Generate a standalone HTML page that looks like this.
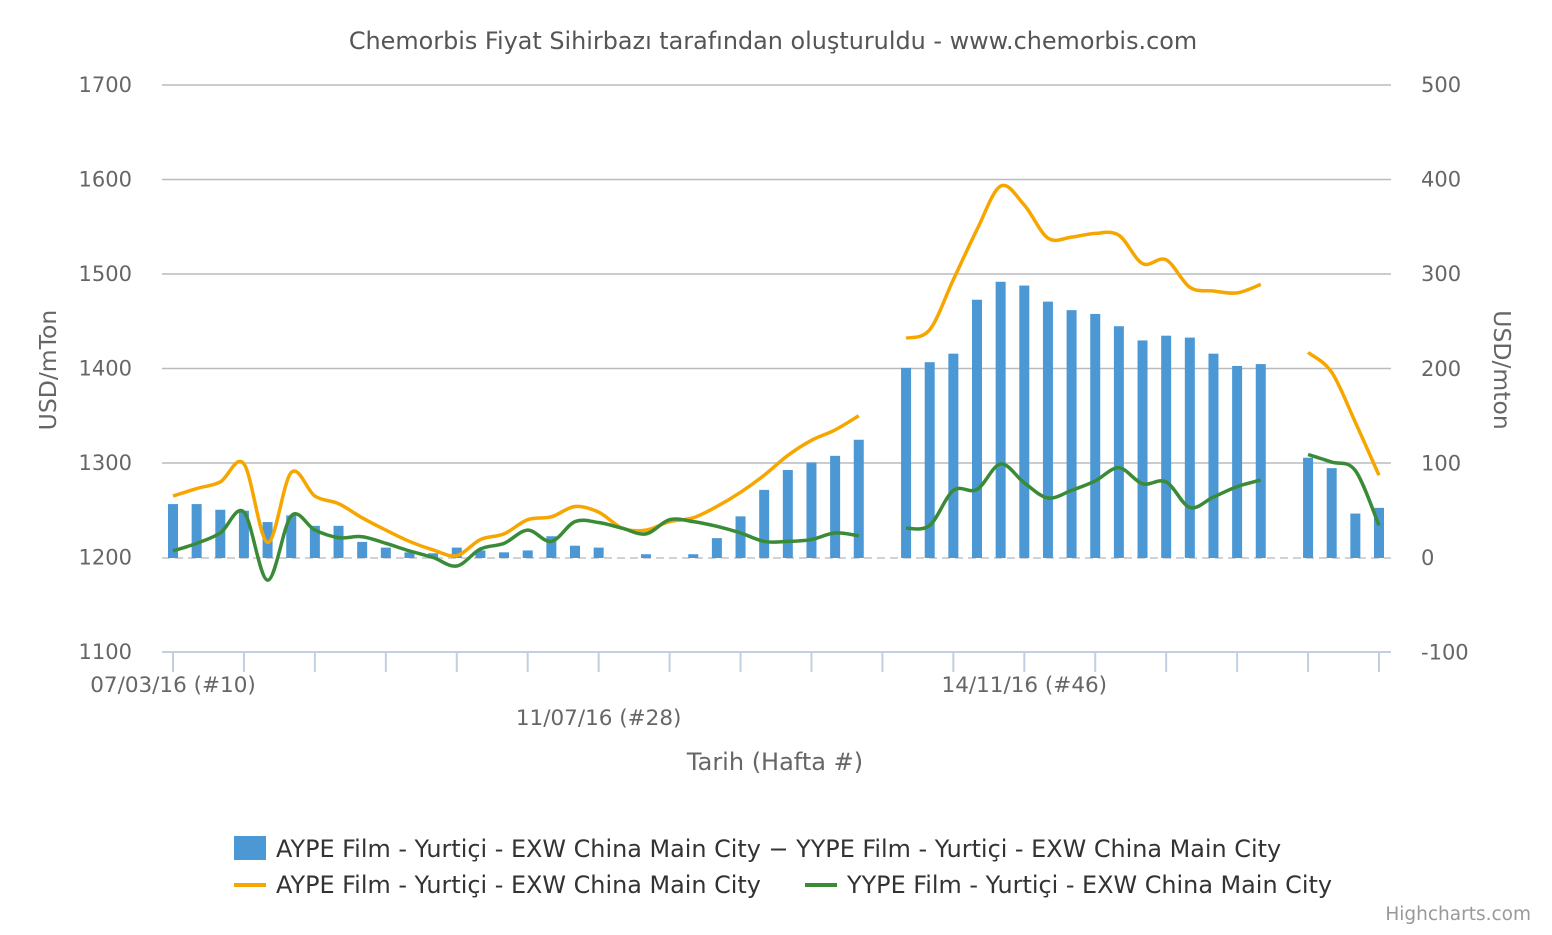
<!DOCTYPE html>
<html><head><meta charset="utf-8"><style>
body{margin:0;background:#fff;}
svg{font-family:"DejaVu Sans","Liberation Sans",sans-serif;}
</style></head><body>
<svg id="c" width="1552" height="930" xmlns="http://www.w3.org/2000/svg">
<text x="773" y="49" text-anchor="middle" font-size="23.9" fill="#555">Chemorbis Fiyat Sihirbazı tarafından oluşturuldu - www.chemorbis.com</text>
<g id="grid"></g><g id="bars"></g><g id="lines"></g><g id="axes"></g>
<text x="0" y="0" transform="translate(56,370) rotate(-90)" text-anchor="middle" font-size="23.5" fill="#666">USD/mTon</text>
<text x="0" y="0" transform="translate(1494,370) rotate(90)" text-anchor="middle" font-size="23.5" fill="#666">USD/mton</text>
<text x="775" y="770" text-anchor="middle" font-size="24" fill="#666">Tarih (Hafta #)</text>
<g>
<g><rect x="234" y="836" width="32" height="24" fill="#4b98d5"/><text x="276" y="857" font-size="23.9" fill="#333">AYPE Film - Yurtiçi - EXW China Main City − YYPE Film - Yurtiçi - EXW China Main City</text></g>
<g><line x1="234" y1="885" x2="266" y2="885" stroke="#f7a600" stroke-width="4"/><text x="276" y="893" font-size="23.9" fill="#333">AYPE Film - Yurtiçi - EXW China Main City</text></g>
<g><line x1="805" y1="885" x2="837" y2="885" stroke="#3a8b37" stroke-width="4"/><text x="847" y="893" font-size="23.9" fill="#333">YYPE Film - Yurtiçi - EXW China Main City</text></g>
</g>
<text x="1531" y="920" text-anchor="end" font-size="18.5" fill="#999">Highcharts.com</text>
</svg>
<script>
const leftTicks=[1100,1200,1300,1400,1500,1600,1700];
const rightTicks=[-100,0,100,200,300,400,500];
const xLabels=[[0,"07/03/16 (#10)"],[18,"11/07/16 (#28)"],[36,"14/11/16 (#46)"]];
const diffValues=[57,57,51,50,38,45,34,34,17,11,6,5,11,8,6,8,23,13,11,0,4,0,4,21,44,72,93,101,108,125,null,201,207,216,273,292,288,271,262,258,245,230,235,233,216,203,205,null,106,95,47,53];
const aypeValues=[1265,1273,1280,1299,1216,1290,1265,1257,1242,1229,1217,1208,1202,1219,1225,1240,1243,1254,1248,1231,1229,1238,1242,1254,1269,1287,1308,1324,1335,1350,null,1432,1441,1494,1547,1593,1573,1538,1539,1543,1541,1511,1515,1486,1482,1480,1489,null,1417,1396,1343,1287];
const yypeValues=[1207,1215,1226,1248,1176,1244,1229,1221,1222,1215,1207,1200,1191,1209,1215,1229,1217,1238,1237,1231,1225,1240,1238,1233,1226,1217,1217,1219,1226,1223,null,1231,1234,1271,1272,1299,1279,1263,1271,1281,1295,1278,1280,1253,1264,1275,1282,null,1309,1301,1292,1234];
const NS="http://www.w3.org/2000/svg";
const X0=173,X1=1379,PL=162,PR=1391;
const n=diffValues.length;
const xs=i=>X0+(X1-X0)*i/(n-1);
const yL=v=>652-(v-1100)*(567/600);
const yR=v=>558-v*(473/500);
function mk(tag,attrs,parent){const e=document.createElementNS(NS,tag);for(const k in attrs)e.setAttribute(k,attrs[k]);parent.appendChild(e);return e;}
const grid=document.getElementById('grid'),axes=document.getElementById('axes'),bars=document.getElementById('bars'),lines=document.getElementById('lines');
leftTicks.forEach((v,i)=>{
  if(v>1200){const l=mk('line',{x1:PL,x2:PR,y1:yL(v),y2:yL(v),stroke:'#b8bcc0','stroke-width':1.5},grid);
  
  }
  const t=mk('text',{x:132,y:yL(v)+7,'text-anchor':'end','font-size':21,fill:'#666'},axes);t.textContent=v;
  
  
});
rightTicks.forEach(v=>{
  const t=mk('text',{x:1421,y:yR(v)+7,'font-size':21,fill:'#666'},axes);t.textContent=v;
  
  
});
const z=mk('line',{x1:PL,x2:PR,y1:yR(0),y2:yR(0),stroke:'#c0c4c8','stroke-width':1.5,'stroke-dasharray':'8,5'},grid);


const ax=mk('line',{x1:PL,x2:PR,y1:652,y2:652,stroke:'#c0d0e0','stroke-width':2},axes);


for(let i=0;i<n;i+=3){const t=mk('line',{x1:xs(i),x2:xs(i),y1:652,y2:672,stroke:'#c0d0e0','stroke-width':2},axes);
  
  }
xLabels.forEach(([i,s],k)=>{const t=mk('text',{x:xs(i),y:k==1?725:692,'text-anchor':'middle','font-size':21.5,fill:'#666'},axes);t.textContent=s;
  
  });
diffValues.forEach((v,i)=>{if(v==null||v===0)return;
  const y=yR(v),b=yR(0);
  const r=mk('rect',{x:xs(i)-5,y:Math.min(y,b),width:10,height:Math.abs(b-y),fill:'#4b98d5'},bars);
  
  });
function drawLine(vals,color,name){
  let segs=[],cur=[];
  vals.forEach((v,i)=>{if(v==null){if(cur.length)segs.push(cur);cur=[];}else cur.push([xs(i),yL(v)]);});
  if(cur.length)segs.push(cur);
  segs.forEach(p=>{
    let d='M'+p[0][0]+','+p[0][1];
    for(let i=0;i<p.length-1;i++){
      const p0=p[i-1]||p[i],p1=p[i],p2=p[i+1],p3=p[i+2]||p2;
      const c1=[p1[0]+(p2[0]-p0[0])/6,p1[1]+(p2[1]-p0[1])/6];
      const c2=[p2[0]-(p3[0]-p1[0])/6,p2[1]-(p3[1]-p1[1])/6];
      d+=' C'+c1+' '+c2+' '+p2;
    }
    const e=mk('path',{d:d,fill:'none',stroke:color,'stroke-width':3.5,'stroke-linejoin':'round'},lines);
    
    
  });
}
drawLine(aypeValues,'#f7a600','aype-line');
drawLine(yypeValues,'#3a8b37','yype-line');
</script>
</body></html>
